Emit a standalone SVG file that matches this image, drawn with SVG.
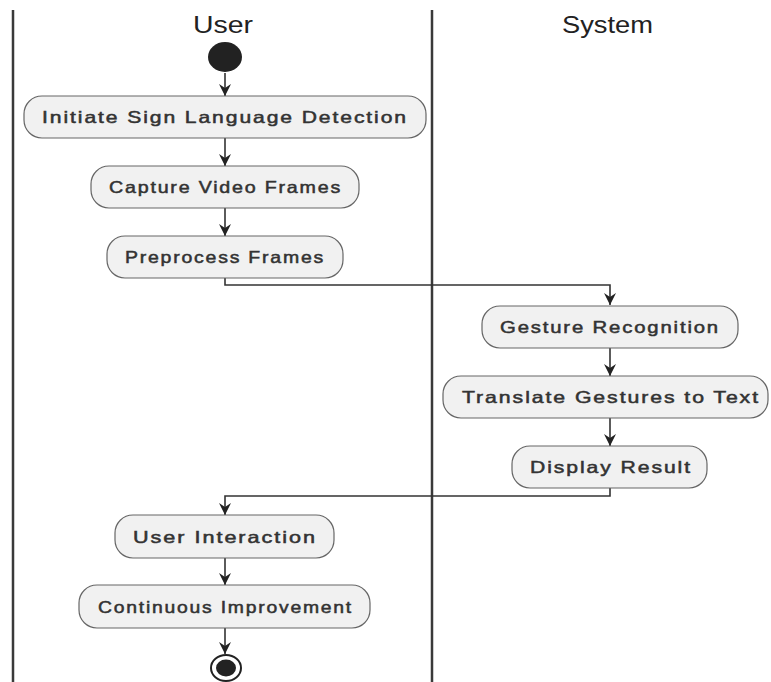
<svg xmlns="http://www.w3.org/2000/svg" width="771" height="682" viewBox="0 0 771 682">
<style>
.lane{stroke:#3a3a3a;stroke-width:2.5;fill:none}
.title{font-family:"Liberation Sans",Arial,sans-serif;font-size:24px;fill:#222;text-anchor:start}
.box{fill:#f1f1f1;stroke:#666;stroke-width:1.2}
.lbl{font-family:"Liberation Sans",Arial,sans-serif;font-size:16.5px;letter-spacing:1.5px;fill:#333;stroke:#333;stroke-width:0.5}
.edge{stroke:#333;stroke-width:1.6;fill:none;marker-end:url(#ah)}
</style>
<defs>
<marker id="ah" markerUnits="userSpaceOnUse" markerWidth="14" markerHeight="14" refX="12" refY="6" orient="auto">
<path d="M0,0 L12,6 L0,12 L4,6 Z" fill="#222"/>
</marker>
</defs>
<rect width="771" height="682" fill="#fff"/>
<g id="lanes">
<line class="lane" x1="13" y1="10" x2="13" y2="682"/>
<line class="lane" x1="432" y1="10" x2="432" y2="682"/>
<text class="title" x="193" y="33" textLength="60" lengthAdjust="spacingAndGlyphs">User</text>
<text class="title" x="562" y="33" textLength="91" lengthAdjust="spacingAndGlyphs">System</text>
</g>
<g id="connectors">
<line class="edge" x1="225" y1="73" x2="225" y2="96"/>
<line class="edge" x1="225" y1="138" x2="225" y2="166"/>
<line class="edge" x1="225" y1="208" x2="225" y2="236"/>
<polyline class="edge" points="225,278 225,285 610,285 610,305"/>
<line class="edge" x1="610" y1="348" x2="610" y2="376"/>
<line class="edge" x1="610" y1="418" x2="610" y2="446"/>
<polyline class="edge" points="610,488 610,496 225,496 225,515"/>
<line class="edge" x1="225" y1="558" x2="225" y2="585"/>
<line class="edge" x1="225" y1="628" x2="225" y2="654"/>
</g>
<g id="start"><ellipse cx="225" cy="57" rx="17" ry="15" fill="#222"/></g>
<g id="n1"><rect class="box" x="24" y="96" width="402" height="42" rx="18"/><text class="lbl" x="42" y="123" textLength="366" lengthAdjust="spacingAndGlyphs">Initiate Sign Language Detection</text></g>
<g id="n2"><rect class="box" x="91" y="166" width="268" height="42" rx="18"/><text class="lbl" x="109" y="193" textLength="233" lengthAdjust="spacingAndGlyphs">Capture Video Frames</text></g>
<g id="n3"><rect class="box" x="107" y="236" width="236" height="42" rx="18"/><text class="lbl" x="125" y="263" textLength="200" lengthAdjust="spacingAndGlyphs">Preprocess Frames</text></g>
<g id="n4"><rect class="box" x="482" y="306" width="256" height="42" rx="18"/><text class="lbl" x="500" y="333" textLength="220" lengthAdjust="spacingAndGlyphs">Gesture Recognition</text></g>
<g id="n5"><rect class="box" x="443" y="376" width="325" height="42" rx="18"/><text class="lbl" x="462" y="403" textLength="298" lengthAdjust="spacingAndGlyphs">Translate Gestures to Text</text></g>
<g id="n6"><rect class="box" x="512" y="446" width="195" height="42" rx="18"/><text class="lbl" x="530" y="473" textLength="162" lengthAdjust="spacingAndGlyphs">Display Result</text></g>
<g id="n7"><rect class="box" x="115" y="515" width="219" height="43" rx="18"/><text class="lbl" x="133" y="543" textLength="184" lengthAdjust="spacingAndGlyphs">User Interaction</text></g>
<g id="n8"><rect class="box" x="79" y="585" width="291" height="43" rx="18"/><text class="lbl" x="98" y="613" textLength="255" lengthAdjust="spacingAndGlyphs">Continuous Improvement</text></g>
<g id="end"><ellipse cx="226" cy="668" rx="15" ry="13" fill="#fff" stroke="#222" stroke-width="2"/><ellipse cx="226" cy="668" rx="10" ry="8.5" fill="#222"/></g>
</svg>
